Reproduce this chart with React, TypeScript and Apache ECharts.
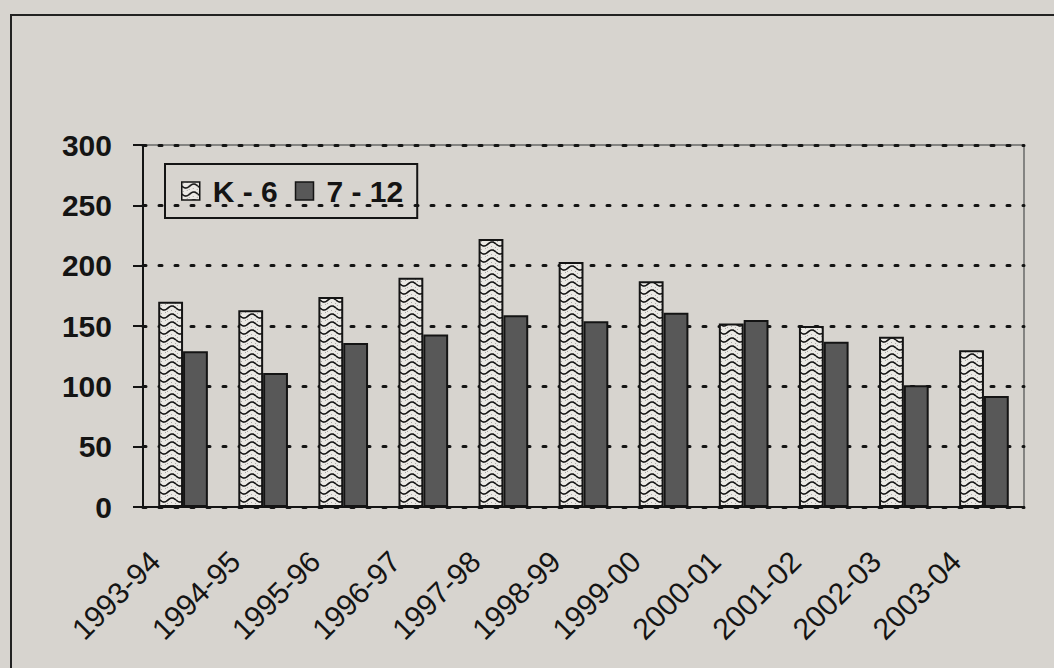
import React, { useEffect, useRef } from "react";
import * as echarts from "echarts";

const categories = [
  "1993-94", "1994-95", "1995-96", "1996-97", "1997-98", "1998-99",
  "1999-00", "2000-01", "2001-02", "2002-03", "2003-04",
];
const k6Values = [170, 163, 174, 190, 222, 203, 187, 152, 150, 141, 130];
const g712Values = [129, 111, 136, 143, 159, 154, 161, 155, 137, 101, 92];
const seriesNames = ["K - 6", "7 - 12"];
const yMin = 0;
const yMax = 300;
const yStep = 50;

const BG = "#d7d4cf";
const INK = "#141414";
const FONT = "'Liberation Sans', Arial, sans-serif";

function makeWavePattern(): HTMLCanvasElement {
  const c = document.createElement("canvas");
  c.width = 16;
  c.height = 8;
  const ctx = c.getContext("2d") as CanvasRenderingContext2D;
  ctx.fillStyle = "#ebe9e5";
  ctx.fillRect(0, 0, 16, 8);
  ctx.fillStyle = "#a9a7a3";
  const speck = [[1, 1], [5, 0], [9, 2], [13, 1], [3, 6], [7, 7], [11, 6], [15, 7]];
  speck.forEach(([x, y]) => ctx.fillRect(x, y, 1, 1));
  ctx.strokeStyle = "#151515";
  ctx.lineWidth = 1.6;
  ctx.beginPath();
  for (let i = 0; i <= 32; i++) {
    const x = i / 2;
    const y = 4 + 2 * Math.sin((x / 16) * Math.PI * 2);
    if (i === 0) ctx.moveTo(x, y);
    else ctx.lineTo(x, y);
  }
  ctx.stroke();
  return c;
}

export default function App() {
  const ref = useRef<HTMLDivElement>(null);

  useEffect(() => {
    document.body.style.background = BG;
    if (!ref.current) return;
    const chart = echarts.init(ref.current, null, { renderer: "svg" });
    const wave = makeWavePattern();
    chart.setOption({
      animation: false,
      backgroundColor: BG,
      grid: {
        left: 143,
        top: 145,
        right: 30,
        bottom: 161,
        show: true,
        borderColor: "#6a6a6a",
        borderWidth: 1.5,
      },
      graphic: [
        {
          type: "rect",
          silent: true,
          shape: { x: 11, y: 15, width: 1070, height: 700 },
          style: { fill: "none", stroke: "#222", lineWidth: 2 },
        },
      ],
      legend: {
        left: 165,
        top: 164,
        orient: "horizontal",
        icon: "rect",
        padding: [12, 14, 12, 16],
        itemWidth: 18,
        itemHeight: 18,
        itemGap: 17,
        borderColor: INK,
        borderWidth: 2,
        backgroundColor: "transparent",
        itemStyle: { borderWidth: 1.5 },
        textStyle: {
          fontSize: 30,
          fontWeight: "bold",
          color: INK,
          fontFamily: FONT,
          padding: [0, 0, 0, 8],
        },
        data: seriesNames,
      },
      xAxis: {
        type: "category",
        data: categories,
        axisLine: { lineStyle: { color: INK, width: 2 } },
        axisTick: { length: 10, lineStyle: { color: INK, width: 2 } },
        axisLabel: {
          rotate: 45,
          interval: 0,
          margin: 21,
          padding: [0, 40, 0, 0],
          fontSize: 30,
          color: INK,
          fontFamily: FONT,
        },
      },
      yAxis: {
        type: "value",
        min: yMin,
        max: yMax,
        interval: yStep,
        axisLine: { show: true, lineStyle: { color: INK, width: 2 } },
        axisTick: { show: true, length: 10, lineStyle: { color: INK, width: 2 } },
        axisLabel: {
          margin: 31,
          fontSize: 30,
          fontWeight: "bold",
          color: INK,
          fontFamily: FONT,
        },
        splitLine: {
          lineStyle: { color: INK, width: 3, type: [3, 13], cap: "round" },
        },
      },
      series: [
        {
          name: seriesNames[0],
          type: "bar",
          data: k6Values,
          barGap: "0%",
          barCategoryGap: "38%",
          itemStyle: {
            color: { image: wave, repeat: "repeat" },
            borderColor: INK,
            borderWidth: 2,
          },
        },
        {
          name: seriesNames[1],
          type: "bar",
          data: g712Values,
          barGap: "0%",
          barCategoryGap: "38%",
          itemStyle: {
            color: "#585858",
            borderColor: INK,
            borderWidth: 2,
          },
        },
      ],
    });
    return () => chart.dispose();
  }, []);

  return (
    <div
      ref={ref}
      style={{
        position: "absolute",
        left: 0,
        top: 0,
        width: 1054,
        height: 668,
        background: BG,
      }}
    />
  );
}
